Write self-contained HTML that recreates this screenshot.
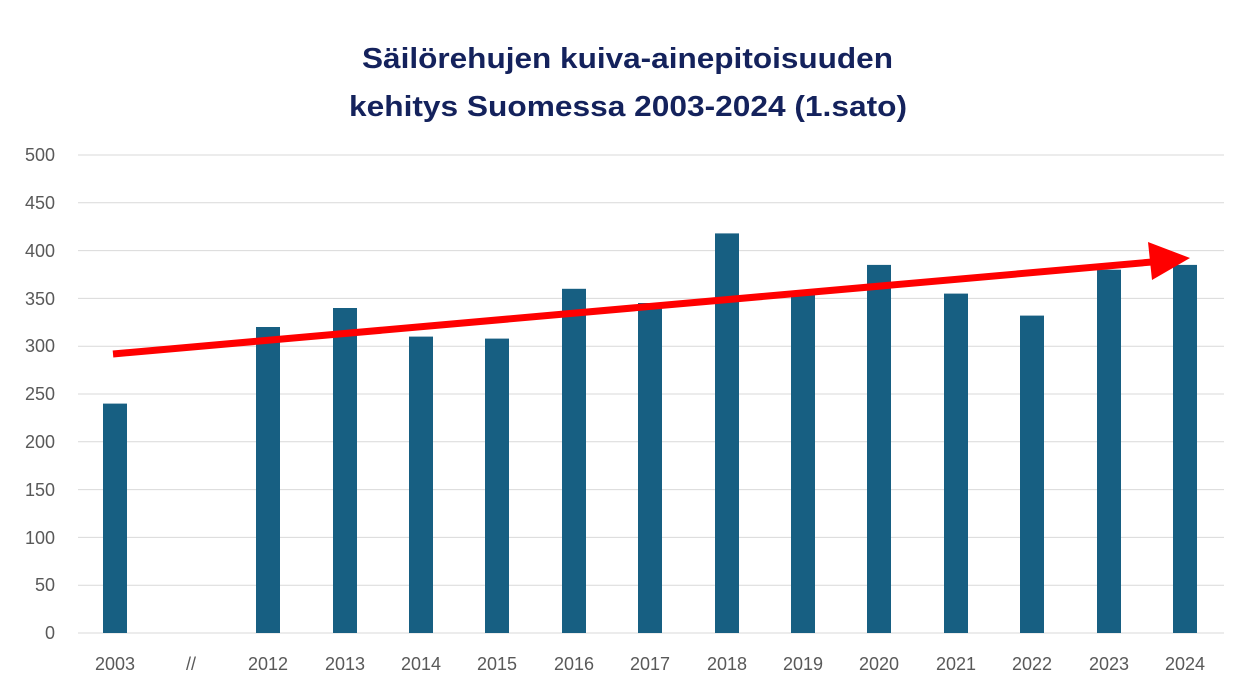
<!DOCTYPE html>
<html><head><meta charset="utf-8"><style>
body{margin:0;background:#fff;}
svg{display:block;font-family:"Liberation Sans",Arial,sans-serif;}
</style></head><body>
<svg width="1240" height="698" viewBox="0 0 1240 698">
<rect width="1240" height="698" fill="#fff"/>
<text x="362" y="68" font-size="29" font-weight="bold" fill="#14225c" textLength="531" lengthAdjust="spacingAndGlyphs">Säilörehujen kuiva-ainepitoisuuden</text>
<text x="349" y="116" font-size="29" font-weight="bold" fill="#14225c" textLength="558" lengthAdjust="spacingAndGlyphs">kehitys Suomessa 2003-2024 (1.sato)</text>
<g stroke="#d9d9d9" stroke-width="1">
<line x1="78" x2="1224" y1="155" y2="155"/><line x1="78" x2="1224" y1="202.8" y2="202.8"/>
<line x1="78" x2="1224" y1="250.6" y2="250.6"/><line x1="78" x2="1224" y1="298.4" y2="298.4"/>
<line x1="78" x2="1224" y1="346.2" y2="346.2"/><line x1="78" x2="1224" y1="394" y2="394"/>
<line x1="78" x2="1224" y1="441.8" y2="441.8"/><line x1="78" x2="1224" y1="489.6" y2="489.6"/>
<line x1="78" x2="1224" y1="537.4" y2="537.4"/><line x1="78" x2="1224" y1="585.2" y2="585.2"/>
<line x1="78" x2="1224" y1="633" y2="633"/>
</g>
<g font-size="18" fill="#595959" text-anchor="end">
<text x="55" y="161">500</text><text x="55" y="209">450</text><text x="55" y="257">400</text>
<text x="55" y="305">350</text><text x="55" y="352">300</text><text x="55" y="400">250</text>
<text x="55" y="448">200</text><text x="55" y="496">150</text><text x="55" y="544">100</text>
<text x="55" y="591">50</text><text x="55" y="639">0</text>
</g>
<g fill="#175f82">
<rect x="103" y="403.6" width="24" height="229.4"/>
<rect x="256" y="327" width="24" height="306"/>
<rect x="333" y="308" width="24" height="325"/>
<rect x="409" y="336.6" width="24" height="296.4"/>
<rect x="485" y="338.6" width="24" height="294.4"/>
<rect x="562" y="288.8" width="24" height="344.2"/>
<rect x="638" y="303" width="24" height="330"/>
<rect x="715" y="233.4" width="24" height="399.6"/>
<rect x="791" y="293.6" width="24" height="339.4"/>
<rect x="867" y="264.9" width="24" height="368.1"/>
<rect x="944" y="293.6" width="24" height="339.4"/>
<rect x="1020" y="315.6" width="24" height="317.4"/>
<rect x="1097" y="269.7" width="24" height="363.3"/>
<rect x="1173" y="264.9" width="24" height="368.1"/>
</g>
<g font-size="18" fill="#595959" text-anchor="middle">
<text x="115" y="670">2003</text><text x="191" y="670">//</text><text x="268" y="670">2012</text>
<text x="345" y="670">2013</text><text x="421" y="670">2014</text><text x="497" y="670">2015</text>
<text x="574" y="670">2016</text><text x="650" y="670">2017</text><text x="727" y="670">2018</text>
<text x="803" y="670">2019</text><text x="879" y="670">2020</text><text x="956" y="670">2021</text>
<text x="1032" y="670">2022</text><text x="1109" y="670">2023</text><text x="1185" y="670">2024</text>
</g>
<line x1="113" y1="354" x2="1152" y2="262" stroke="#ff0000" stroke-width="7"/>
<polygon points="1190,258 1148,242 1152,280" fill="#ff0000"/>
</svg>
</body></html>
